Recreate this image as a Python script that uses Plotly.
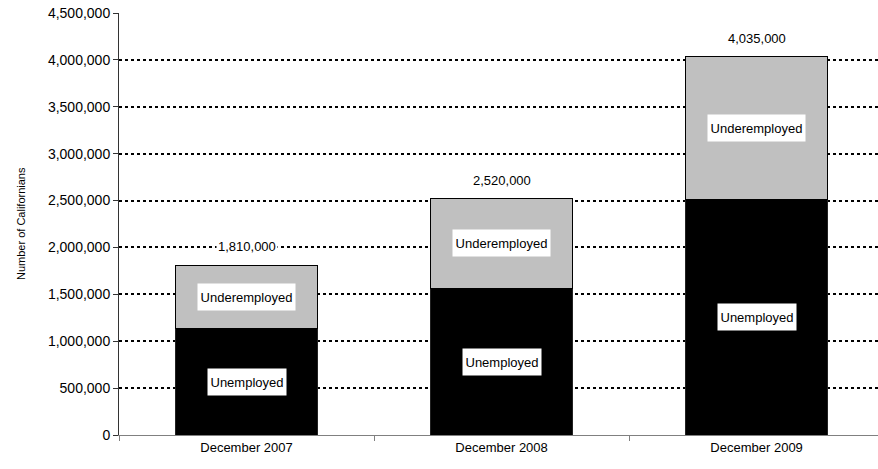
import plotly.graph_objects as go

# Californians out of work or working less than they want, by month
periods = ["December 2007", "December 2008", "December 2009"]
unemployed = [1140000, 1567000, 2515000]
underemployed = [670000, 953000, 1520000]
totals = [1810000, 2520000, 4035000]

y_ticks = list(range(0, 4500001, 500000))
y_tick_labels = [f"{v:,}" for v in y_ticks]

FONT = "Liberation Sans, Arial, sans-serif"

fig = go.Figure()
fig.add_trace(go.Bar(
    x=periods, y=unemployed, name="Unemployed",
    marker=dict(color="#000000", line=dict(color="#222222", width=1)),
    width=0.557,
))
fig.add_trace(go.Bar(
    x=periods, y=underemployed, name="Underemployed",
    marker=dict(color="#C0C0C0", line=dict(color="#000000", width=1)),
    width=0.557,
))

# white label boxes inside each segment
for p, u, d in zip(periods, unemployed, underemployed):
    fig.add_annotation(x=p, y=u / 2, text="Unemployed", showarrow=False,
                       bgcolor="white", font=dict(family=FONT, size=13, color="black"),
                       width=76, height=24, borderpad=1)
    fig.add_annotation(x=p, y=u + d / 2, text="Underemployed", showarrow=False,
                       bgcolor="white", font=dict(family=FONT, size=13, color="black"),
                       width=95, height=24, borderpad=1)

# total above each stack
for p, t in zip(periods, totals):
    fig.add_annotation(x=p, y=t, text=f"{t:,}", showarrow=False, yanchor="bottom",
                       yshift=9, bgcolor="white",
                       font=dict(family=FONT, size=13, color="black"))

fig.add_annotation(xref="paper", yref="paper", x=-106 / 759, y=0.5,
                   text="Number of Californians", textangle=-90, showarrow=False,
                   font=dict(family=FONT, size=11, color="black"))

fig.update_layout(
    barmode="stack",
    width=878, height=469,
    margin=dict(l=119, r=0, t=13, b=34),
    paper_bgcolor="white", plot_bgcolor="white",
    showlegend=False,
    font=dict(family=FONT, size=13, color="black"),
    xaxis=dict(
        range=[-0.5, 2.476], showgrid=False, showline=True, linecolor="#808080",
        linewidth=1, ticks="outside", tickson="boundaries", ticklen=5,
        tickcolor="#808080", tickfont=dict(family=FONT, size=13, color="black"),
    ),
    yaxis=dict(
        range=[0, 4500000], tickvals=y_ticks, ticktext=y_tick_labels,
        showgrid=True, gridcolor="black", gridwidth=2, griddash="3px,3px",
        showline=True, linecolor="#333333", linewidth=1,
        ticks="outside", ticklen=5, tickcolor="#333333",
        tickfont=dict(family=FONT, size=14, color="black"),
        zeroline=False,
    ),
)

fig.write_html("out.html")
